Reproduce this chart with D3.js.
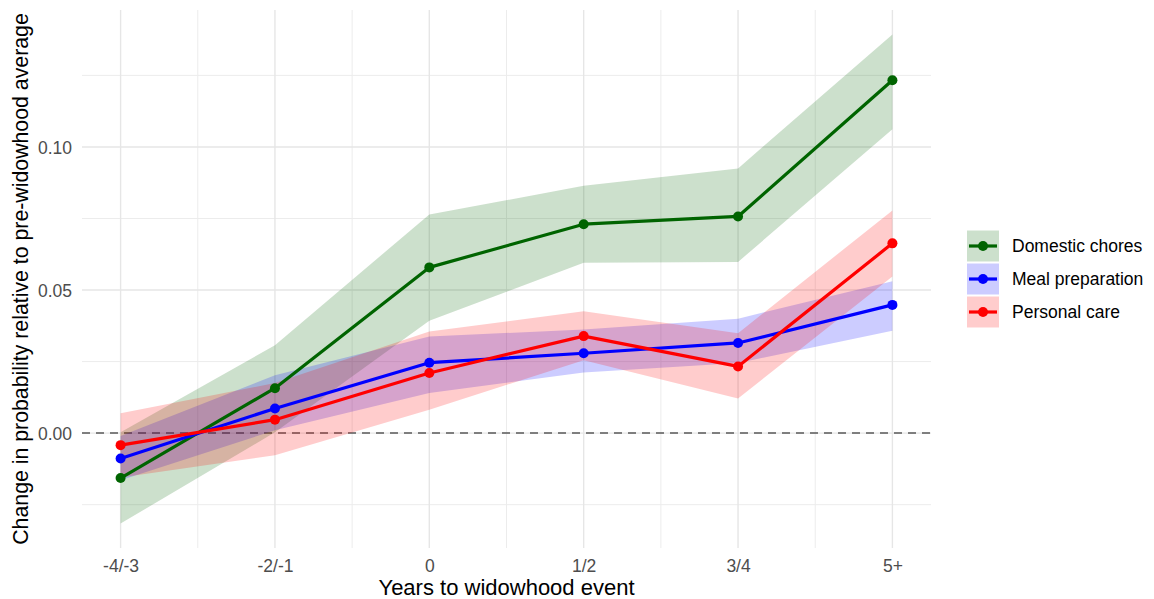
<!DOCTYPE html>
<html>
<head>
<meta charset="utf-8">
<script src="https://cdn.jsdelivr.net/npm/d3@7"></script>
<style>
  html, body { margin: 0; padding: 0; background: #ffffff; }
  svg { display: block; font-family: "Liberation Sans", Arial, Helvetica, sans-serif; }
</style>
</head>
<body>
<svg id="chart" width="1154" height="599"></svg>
<script>
// ---- data ----
const categories = ["-4/-3", "-2/-1", "0", "1/2", "3/4", "5+"];
const seriesNames = ["Domestic chores", "Meal preparation", "Personal care"];
const seriesColors = ["#006400", "#0000ff", "#ff0000"];

const domestic   = [-0.0157, 0.0157, 0.0579, 0.0730, 0.0757, 0.1233];
const domesticLo = [-0.0316, 0.0003, 0.0393, 0.0595, 0.0598, 0.1062];
const domesticHi = [ 0.0003, 0.0307, 0.0764, 0.0864, 0.0925, 0.1393];

const meal   = [-0.0089, 0.0086, 0.0246, 0.0279, 0.0315, 0.0448];
const mealLo = [-0.0165, 0.0010, 0.0140, 0.0212, 0.0245, 0.0358];
const mealHi = [-0.0010, 0.0202, 0.0338, 0.0362, 0.0400, 0.0531];

const personal   = [-0.0042, 0.0047, 0.0210, 0.0339, 0.0233, 0.0663];
const personalLo = [-0.0155, -0.0077, 0.0082, 0.0255, 0.0121, 0.0547];
const personalHi = [ 0.0069, 0.0175, 0.0355, 0.0426, 0.0349, 0.0778];

const yTickValues = [0.00, 0.05, 0.10];
const yTickLabels = ["0.00", "0.05", "0.10"];
const yMinorValues = [-0.025, 0.025, 0.075, 0.125];

const xTitle = "Years to widowhood event";
const yTitle = "Change in probability relative to pre-widowhood average";

// ---- build series ----
const series = [
  { name: seriesNames[0], color: seriesColors[0], est: domestic, lo: domesticLo, hi: domesticHi },
  { name: seriesNames[1], color: seriesColors[1], est: meal, lo: mealLo, hi: mealHi },
  { name: seriesNames[2], color: seriesColors[2], est: personal, lo: personalLo, hi: personalHi }
];

const svg = d3.select("#chart");
const panel = { left: 82, right: 931, top: 10, bottom: 548 };

// x: continuous positions 1..n with 5% expansion (ggplot style)
const n = categories.length;
const xPad = (n - 1) * 0.05;
const x = d3.scaleLinear().domain([1 - xPad, n + xPad]).range([panel.left, panel.right]);

// y: data extent with 5% expansion
const allVals = series.flatMap(s => [...s.lo, ...s.hi, ...s.est]);
const [yLo, yHi] = d3.extent(allVals);
const yPad = (yHi - yLo) * 0.05;
const y = d3.scaleLinear().domain([yLo - yPad, yHi + yPad]).range([panel.bottom, panel.top]);

// ---- grid ----
const grid = svg.append("g");
const xMinor = d3.range(1.5, n, 1);
grid.selectAll("line.ymin").data(yMinorValues).enter().append("line")
  .attr("x1", panel.left).attr("x2", panel.right)
  .attr("y1", d => y(d)).attr("y2", d => y(d))
  .attr("stroke", "#ececec").attr("stroke-width", 1);
grid.selectAll("line.xmin").data(xMinor).enter().append("line")
  .attr("y1", panel.top).attr("y2", panel.bottom)
  .attr("x1", d => x(d)).attr("x2", d => x(d))
  .attr("stroke", "#ececec").attr("stroke-width", 1);
grid.selectAll("line.ymaj").data(yTickValues).enter().append("line")
  .attr("x1", panel.left).attr("x2", panel.right)
  .attr("y1", d => y(d)).attr("y2", d => y(d))
  .attr("stroke", "#e6e6e6").attr("stroke-width", 1.4);
grid.selectAll("line.xmaj").data(d3.range(1, n + 1)).enter().append("line")
  .attr("y1", panel.top).attr("y2", panel.bottom)
  .attr("x1", d => x(d)).attr("x2", d => x(d))
  .attr("stroke", "#e6e6e6").attr("stroke-width", 1.4);

// ---- zero reference line ----
svg.append("line")
  .attr("x1", panel.left).attr("x2", panel.right)
  .attr("y1", y(0)).attr("y2", y(0))
  .attr("stroke", "#595959").attr("stroke-width", 1.5)
  .attr("stroke-dasharray", "8,6");

// ---- ribbons ----
const area = d3.area()
  .x((d, i) => x(i + 1))
  .y0(d => y(d[0]))
  .y1(d => y(d[1]));
series.forEach(s => {
  const pts = s.lo.map((v, i) => [v, s.hi[i]]);
  svg.append("path").datum(pts)
    .attr("d", area)
    .attr("fill", s.color).attr("fill-opacity", 0.2);
});

// ---- lines & points ----
const line = d3.line().x((d, i) => x(i + 1)).y(d => y(d));
series.forEach(s => {
  svg.append("path").datum(s.est)
    .attr("d", line)
    .attr("fill", "none").attr("stroke", s.color)
    .attr("stroke-width", 3.2).attr("stroke-linejoin", "round");
});
series.forEach(s => {
  svg.append("g").selectAll("circle").data(s.est).enter().append("circle")
    .attr("cx", (d, i) => x(i + 1)).attr("cy", d => y(d))
    .attr("r", 5).attr("fill", s.color);
});

// ---- axes (tick labels only) ----
const xAxis = d3.axisBottom(x)
  .tickValues(d3.range(1, n + 1))
  .tickFormat(d => categories[d - 1])
  .tickSize(0).tickPadding(0);
const gx = svg.append("g").attr("transform", `translate(0,${panel.bottom + 24})`).call(xAxis);
gx.select(".domain").remove();
gx.selectAll("text").attr("font-size", 17.5).attr("fill", "#4d4d4d")
  .attr("font-family", "Liberation Sans, Arial, sans-serif").attr("dy", 0);

const yAxis = d3.axisLeft(y)
  .tickValues(yTickValues)
  .tickFormat((d, i) => yTickLabels[i])
  .tickSize(0).tickPadding(0);
const gy = svg.append("g").attr("transform", `translate(${panel.left - 10},0)`).call(yAxis);
gy.select(".domain").remove();
gy.selectAll("text").attr("font-size", 17.5).attr("fill", "#4d4d4d")
  .attr("font-family", "Liberation Sans, Arial, sans-serif").attr("dy", "0.35em");

// ---- titles ----
svg.append("text")
  .attr("x", (panel.left + panel.right) / 2).attr("y", 595)
  .attr("text-anchor", "middle").attr("font-size", 22).attr("fill", "#000")
  .text(xTitle);
svg.append("text")
  .attr("transform", `translate(28,${(panel.top + panel.bottom) / 2}) rotate(-90)`)
  .attr("text-anchor", "middle").attr("font-size", 21.3).attr("fill", "#000")
  .text(yTitle);

// ---- legend ----
const legend = svg.append("g");
const keyX = 967, keyW = 32, keyH = 31, keyStep = 33, legendCenter = 279;
series.forEach((s, i) => {
  const cy = legendCenter + (i - 1) * keyStep;
  const g = legend.append("g");
  g.append("rect").attr("x", keyX).attr("y", cy - keyH / 2)
    .attr("width", keyW).attr("height", keyH)
    .attr("fill", s.color).attr("fill-opacity", 0.2);
  g.append("line").attr("x1", keyX + 2).attr("x2", keyX + keyW - 2)
    .attr("y1", cy).attr("y2", cy)
    .attr("stroke", s.color).attr("stroke-width", 3.2);
  g.append("circle").attr("cx", keyX + keyW / 2).attr("cy", cy).attr("r", 5).attr("fill", s.color);
  g.append("text").attr("x", 1012).attr("y", cy).attr("dy", "0.35em")
    .attr("font-size", 17.5).attr("fill", "#000").text(s.name);
});
</script>
</body>
</html>
